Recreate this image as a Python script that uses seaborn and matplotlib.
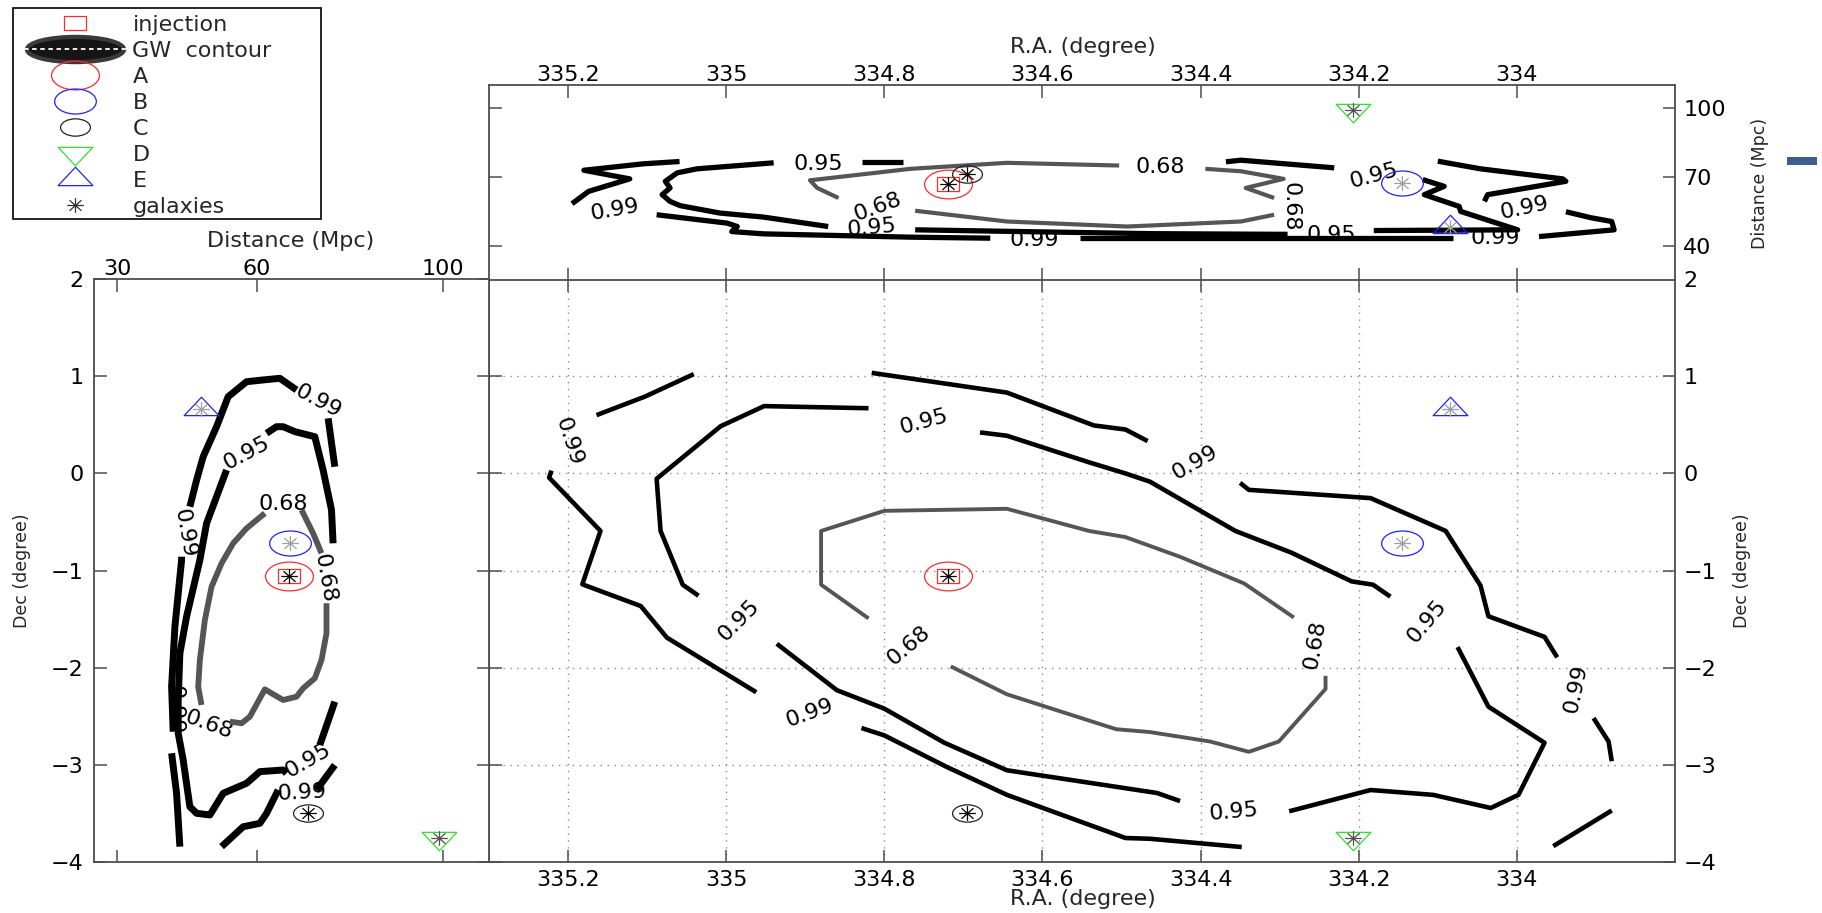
import numpy as np
import matplotlib
matplotlib.use("Agg")
import matplotlib.pyplot as plt
import seaborn as sns
from matplotlib.path import Path
from matplotlib.lines import Line2D
from matplotlib.patches import Rectangle
from matplotlib.legend_handler import HandlerTuple

# ---- sources (R.A. deg, Dec deg, distance Mpc) ----
src_names = ["injection", "A", "B", "C", "D", "E"]
src_ra = [334.72, 334.72, 334.145, 334.695, 334.207, 334.085]
src_dec = [-1.06, -1.06, -0.72, -3.50, -3.75, 0.66]
src_dist = [67.0, 67.0, 67.2, 71.0, 99.3, 48.0]

# galaxies (asterisks) and their grey level
gal_ra = [334.72, 334.145, 334.695, 334.207, 334.085]
gal_dec = [-1.06, -0.72, -3.50, -3.75, 0.66]
gal_dist = [67.0, 67.2, 71.0, 99.3, 48.0]
gal_grey = ["#000000", "#a0a0a0", "#000000", "#505050", "#a0a0a0"]

# ---- GW contours, R.A. vs Dec (main panel); each list = one drawn piece ----
main_c68 = [
    [(334.820, -1.493), (334.880, -1.146), (334.880, -0.593), (334.800, -0.386), (334.645, -0.365),
     (334.541, -0.593), (334.495, -0.656), (334.426, -0.859), (334.345, -1.133), (334.282, -1.484)],
    [(334.242, -2.084), (334.242, -2.219), (334.301, -2.760), (334.339, -2.866), (334.388, -2.760),
     (334.464, -2.663), (334.507, -2.633), (334.645, -2.274), (334.716, -1.987)],
]
main_c95 = [
    [(335.035, -1.260), (335.055, -1.146), (335.083, -0.593), (335.088, -0.056), (335.007, 0.485),
     (334.952, 0.692), (334.820, 0.670)],
    [(334.679, 0.421), (334.645, 0.387), (334.541, 0.113), (334.495, -0.001), (334.464, -0.086),
     (334.356, -0.593), (334.285, -0.817), (334.209, -1.112), (334.182, -1.146), (334.160, -1.269)],
    [(334.075, -1.788), (334.036, -2.401), (333.965, -2.773), (333.998, -3.309), (334.033, -3.444),
     (334.106, -3.309), (334.185, -3.259), (334.288, -3.478)],
    [(334.426, -3.373), (334.455, -3.290), (334.645, -3.056), (334.724, -2.773), (334.800, -2.422),
     (334.860, -2.232), (334.936, -1.754)],
]
main_c99 = [
    [(335.164, 0.599), (335.103, 0.789), (335.041, 1.021)],
    [(334.816, 1.034), (334.645, 0.831), (334.535, 0.493), (334.495, 0.451), (334.467, 0.332)],
    [(334.350, -0.098), (334.339, -0.170), (334.185, -0.255), (334.090, -0.593), (334.046, -1.155),
     (334.036, -1.471), (333.965, -1.683), (333.949, -1.894)],
    [(333.903, -2.519), (333.884, -2.760), (333.880, -2.963)],
    [(333.880, -3.470), (333.954, -3.837)],
    [(334.348, -3.846), (334.464, -3.761), (334.495, -3.753), (334.645, -3.309), (334.721, -3.022),
     (334.800, -2.697), (334.829, -2.621)],
    [(334.962, -2.253), (335.075, -1.691), (335.108, -1.366), (335.182, -1.142), (335.159, -0.593),
     (335.224, -0.044), (335.221, 0.028)],
]
main_labels = [
    (335.199, 0.324, "0.99", -72), (334.750, 0.535, "0.95", 15), (334.984, -1.514, "0.95", 45),
    (334.769, -1.767, "0.68", 40), (334.894, -2.464, "0.99", 20), (334.407, 0.113, "0.99", 30),
    (334.255, -1.767, "0.68", 80), (334.114, -1.526, "0.95", 50), (333.925, -2.211, "0.99", 78),
    (334.358, -3.487, "0.95", 5),
]

# ---- R.A. vs distance (top panel) ----
top_c68 = [
    [(334.858, 60.75), (334.885, 65.13), (334.894, 68.46), (334.767, 73.46), (334.645, 76.08), (334.503, 74.90)],
    [(334.394, 73.46), (334.349, 72.40), (334.295, 69.08), (334.343, 65.13), (334.307, 60.75)],
    [(334.307, 53.44), (334.349, 50.50), (334.493, 48.31), (334.645, 50.50), (334.761, 55.19)],
]
top_c95 = [
    [(334.828, 76.52), (334.776, 76.52)],
    [(334.368, 76.52), (334.349, 77.22), (334.231, 73.89)],
    [(334.119, 68.77), (334.092, 65.83), (334.117, 62.20), (334.073, 57.07), (334.071, 54.88),
     (333.999, 46.87), (334.181, 46.56)],
    [(334.290, 44.90), (334.463, 45.20), (334.761, 46.87)],
    [(334.871, 48.31), (334.953, 52.43), (335.008, 54.18), (335.058, 57.38), (335.071, 59.26),
     (335.081, 62.20), (335.071, 65.13), (335.077, 68.02), (335.062, 71.70), (335.037, 73.46), (334.940, 76.08)],
]
top_c99 = [
    [(335.059, 76.65), (335.105, 75.64), (335.180, 72.84), (335.122, 69.08), (335.174, 63.64), (335.195, 58.26)],
    [(335.088, 53.44), (334.999, 49.80), (334.986, 48.31), (334.993, 46.12), (334.953, 45.12),
     (334.767, 43.67), (334.666, 43.23)],
    [(334.552, 43.23), (334.081, 43.23)],
    [(333.972, 43.93), (333.877, 46.87), (333.880, 50.50), (333.906, 52.12), (333.938, 54.75)],
    [(334.041, 59.26), (334.037, 62.20), (333.938, 68.02), (333.942, 69.08), (334.046, 73.46), (334.100, 76.79)],
]
top_labels = [
    (334.451, 74.33, "0.68", 0), (334.286, 57.07, "0.68", -90), (334.809, 57.07, "0.68", 20),
    (334.181, 70.22, "0.95", 15), (334.235, 44.60, "0.95", 0), (334.816, 47.60, "0.95", 5),
    (334.883, 75.78, "0.95", 0), (335.141, 55.60, "0.99", 10), (334.611, 42.49, "0.99", 0),
    (334.027, 43.23, "0.99", 0), (333.991, 56.37, "0.99", 12),
]

# ---- distance vs Dec (left panel) ----
left_c68 = [
    [(69.66, -0.377), (72.15, -0.617), (73.96, -0.823)],
    [(75.03, -1.337), (75.03, -1.646), (73.96, -1.921), (72.52, -2.109), (70.00, -2.212), (68.58, -2.299),
     (65.70, -2.333), (61.76, -2.223), (58.54, -2.504), (56.75, -2.572), (54.24, -2.556)],
    [(48.14, -2.384), (47.42, -2.196), (47.78, -1.921), (48.86, -1.509), (50.30, -1.167), (52.45, -0.926),
     (54.95, -0.720), (57.83, -0.566), (61.76, -0.411)],
]
left_c95 = [
    [(62.13, 0.412), (64.28, 0.480), (65.70, 0.480), (68.22, 0.429), (72.52, 0.377), (74.30, 0.034),
     (76.11, -0.377), (76.45, -0.720)],
    [(76.82, -2.350), (73.59, -2.796)],
    [(66.43, -3.087), (65.70, -3.053), (60.69, -3.070), (57.83, -3.190), (52.80, -3.293), (49.94, -3.516),
     (47.08, -3.499), (45.63, -3.431), (44.19, -2.950), (43.12, -2.675), (43.12, -2.333), (43.48, -1.852),
     (44.92, -1.475), (47.78, -0.892), (49.23, -0.514), (52.45, -0.103), (53.53, 0.034)],
]
left_c99 = [
    [(45.63, -0.343), (47.08, -0.069), (48.49, 0.171), (51.38, 0.480), (53.87, 0.789), (57.83, 0.943),
     (61.40, 0.961), (64.99, 0.978), (68.58, 0.858)],
    [(75.38, 0.566), (76.82, 0.068)],
    [(76.82, -3.002), (72.88, -3.259)],
    [(64.63, -3.259), (62.13, -3.499), (60.69, -3.602), (57.10, -3.637), (52.45, -3.842)],
    [(43.48, -3.842), (42.77, -3.293), (41.70, -2.881)],
    [(42.04, -2.659), (41.70, -2.196), (42.41, -1.578), (43.85, -0.892), (43.85, -0.858)],
]
left_labels = [
    (65.70, -0.319, "0.68", 0), (74.67, -1.080, "0.68", -80), (49.60, -2.590, "0.68", -20),
    (57.83, 0.206, "0.95", 28), (71.08, -2.950, "0.95", 30), (73.23, 0.737, "0.99", -28),
    (44.56, -0.617, "0.99", -80), (69.66, -3.283, "0.99", 3), (42.30, -2.430, "0.99", -90),
]

# ---- ticks ----
ra_ticks = [335.2, 335.0, 334.8, 334.6, 334.4, 334.2, 334.0]
ra_ticklabels = ["335.2", "335", "334.8", "334.6", "334.4", "334.2", "334"]
dec_ticks = [-4, -3, -2, -1, 0, 1, 2]
dist_ticks = [30, 60, 100]
dist_ticks_top = [40, 70, 100]

W, H = 1822, 913
sns.set_style("white")
plt.rcParams["font.family"] = ["DejaVu Sans"]
plt.rcParams["axes.unicode_minus"] = True

fig = plt.figure(figsize=(W / 100, H / 100), dpi=100)
ax_main = fig.add_axes([489 / W, 1 - 862 / H, 1186 / W, 583 / H])
ax_top = fig.add_axes([489 / W, 1 - 280 / H, 1186 / W, 195 / H])
ax_left = fig.add_axes([94 / W, 1 - 862 / H, 395 / W, 583 / H])

AX_COL = "#4d4d4d"
GREY68 = "#555555"
TICK_FS = 16
LAB_FS = 16


def ellipse(aspect):
    p = Path.unit_circle()
    return Path(p.vertices * np.array([1.0, aspect]), p.codes)


def rect(aspect):
    return Path([(-1, -aspect), (1, -aspect), (1, aspect), (-1, aspect), (-1, -aspect)],
                [Path.MOVETO, Path.LINETO, Path.LINETO, Path.LINETO, Path.CLOSEPOLY])


def triangle(aspect, up=True):
    s = 1 if up else -1
    v = [(-1, -s * 2 * aspect / 3), (1, -s * 2 * aspect / 3), (0, s * 4 * aspect / 3), (-1, -s * 2 * aspect / 3)]
    return Path(v, [Path.MOVETO, Path.LINETO, Path.LINETO, Path.CLOSEPOLY])


def asterisk(aspect):
    d = 0.72
    v = [(-1, 0), (1, 0), (0, -aspect), (0, aspect),
         (-d, -d * aspect), (d, d * aspect), (-d, d * aspect), (d, -d * aspect)]
    c = [Path.MOVETO, Path.LINETO] * 4
    return Path(v, c)


styles = {
    "injection": dict(marker=rect(0.58), ms=16.5, mec="#ff2a2a"),
    "A": dict(marker=ellipse(0.6), ms=34.5, mec="#ff2a2a"),
    "B": dict(marker=ellipse(0.6), ms=30, mec="#2020ff"),
    "C": dict(marker=ellipse(0.58), ms=21.5, mec="#222222"),
    "D": dict(marker=triangle(0.53, up=False), ms=25, mec="#30e030"),
    "E": dict(marker=triangle(0.53, up=True), ms=25, mec="#2020ff"),
}
ast = asterisk(0.88)


def draw_contours(ax, c68, c95, c99, labels, lw_k, lw_g):
    for seg in c99 + c95:
        xs, ys = zip(*seg)
        sns.lineplot(x=list(xs), y=list(ys), sort=False, estimator=None, color="black",
                     linewidth=lw_k, ax=ax, legend=False, zorder=3, solid_capstyle="butt",
                     solid_joinstyle="round")
    for seg in c68:
        xs, ys = zip(*seg)
        sns.lineplot(x=list(xs), y=list(ys), sort=False, estimator=None, color=GREY68,
                     linewidth=lw_g, ax=ax, legend=False, zorder=3, solid_capstyle="butt",
                     solid_joinstyle="round")
    for x, y, t, r in labels:
        ax.text(x, y, t, fontsize=16, rotation=r, ha="center", va="center",
                rotation_mode="anchor", zorder=2, color="black")


def draw_sources(ax, xs, ys, gx, gy):
    for name, x, y in zip(src_names, xs, ys):
        st = styles[name]
        ax.plot([x], [y], ls="none", marker=st["marker"], ms=st["ms"], mec=st["mec"],
                mfc="none", mew=0.9, zorder=5)
    for x, y, g in zip(gx, gy, gal_grey):
        ax.plot([x], [y], ls="none", marker=ast, ms=12, mec=g, mfc="none", mew=0.9, zorder=6)


def base_style(ax):
    for s in ax.spines.values():
        s.set_color(AX_COL)
        s.set_linewidth(1.3)
        s.set_visible(True)
    ax.tick_params(which="both", direction="in", length=9, width=1.1, color=AX_COL,
                   labelsize=TICK_FS, labelcolor="black", top=True, bottom=True, left=True, right=True)
    ax.set_xlabel("")
    ax.set_ylabel("")
    ax.set_facecolor("white")


# main panel
draw_contours(ax_main, main_c68, main_c95, main_c99, main_labels, 3.3, 2.8)
draw_sources(ax_main, src_ra, src_dec, gal_ra, gal_dec)
base_style(ax_main)
ax_main.set_xlim(335.3, 333.8)
ax_main.set_ylim(-4, 2)
ax_main.set_xticks(ra_ticks)
ax_main.set_xticklabels(ra_ticklabels)
ax_main.set_yticks(dec_ticks)
ax_main.tick_params(labelbottom=True, labeltop=False, labelleft=False, labelright=True)
ax_main.tick_params(axis="x", pad=6)
ax_main.tick_params(axis="y", pad=6)
ax_main.grid(True, linestyle=(0, (1, 4)), color="#8a8a8a", linewidth=1.0)
ax_main.set_axisbelow(True)

# top panel
draw_contours(ax_top, top_c68, top_c95, top_c99, top_labels, 3.8, 3.0)
draw_sources(ax_top, src_ra, src_dist, gal_ra, gal_dist)
base_style(ax_top)
ax_top.set_xlim(335.3, 333.8)
ax_top.set_ylim(25, 110)
ax_top.set_xticks(ra_ticks)
ax_top.set_xticklabels(ra_ticklabels)
ax_top.set_yticks(dist_ticks_top)
ax_top.tick_params(labelbottom=False, labeltop=True, labelleft=False, labelright=True)
ax_top.tick_params(axis="x", pad=0)
ax_top.tick_params(axis="y", pad=6)
ax_top.grid(False)

# left panel
draw_contours(ax_left, left_c68, left_c95, left_c99, left_labels, 5.0, 4.2)
draw_sources(ax_left, src_dist, src_dec, gal_dist, gal_dec)
base_style(ax_left)
ax_left.set_xlim(25, 110)
ax_left.set_ylim(-4, 2)
ax_left.set_xticks(dist_ticks)
ax_left.set_yticks(dec_ticks)
ax_left.tick_params(labelbottom=False, labeltop=True, labelleft=True, labelright=False)
ax_left.tick_params(axis="x", pad=0)
ax_left.tick_params(axis="y", pad=7.5)
ax_left.grid(False)

# axis labels
fig.text(1083 / W, 1 - 47 / H, "R.A. (degree)", fontsize=LAB_FS, ha="center", va="center")
fig.text(1083 / W, 1 - 899 / H, "R.A. (degree)", fontsize=LAB_FS, ha="center", va="center")
fig.text(291 / W, 1 - 241 / H, "Distance (Mpc)", fontsize=LAB_FS, ha="center", va="center")
fig.text(1760 / W, 1 - 183 / H, "Distance (Mpc)", fontsize=12.5, ha="center", va="center", rotation=90)
fig.text(1742 / W, 1 - 571 / H, "Dec (degree)", fontsize=12.5, ha="center", va="center", rotation=90)
fig.text(22 / W, 1 - 571 / H, "Dec (degree)", fontsize=12.5, ha="center", va="center", rotation=90)

# small colour-bar remnant
fig.add_artist(Rectangle((1787 / W, 1 - 165 / H), 30 / W, 8 / H, transform=fig.transFigure,
                         facecolor="#3c5f8e", edgecolor="none"))

# legend
handles = []
for name in src_names:
    st = styles[name]
    handles.append(Line2D([], [], ls="none", marker=st["marker"], ms=st["ms"], mec=st["mec"],
                          mfc="none", mew=0.9))
gw = (Line2D([], [], ls="none", marker=ellipse(0.26), ms=70, mfc="#151515", mec="#3a3a3a", mew=3),
      Line2D([], [], color="white", lw=1.3, ls=(0, (2.5, 2))))
gal = Line2D([], [], ls="none", marker=ast, ms=12, mec="#333333", mfc="none", mew=0.9)
leg_handles = [handles[0], gw] + handles[1:] + [gal]
leg_labels = ["injection", "GW  contour", "A", "B", "C", "D", "E", "galaxies"]
leg = fig.legend(leg_handles, leg_labels, loc="upper left", bbox_to_anchor=(18 / W, 1 - 9 / H),
                 frameon=False, fontsize=16, handlelength=4.6, handletextpad=0.3,
                 labelspacing=0.27, borderpad=0.25, borderaxespad=0,
                 handler_map={tuple: HandlerTuple(ndivide=1)})
fig.add_artist(Rectangle((13 / W, 1 - 219 / H), 308 / W, 211 / H, transform=fig.transFigure,
                         facecolor="none", edgecolor="black", linewidth=1.2))

fig.savefig("out.png", dpi=100)
